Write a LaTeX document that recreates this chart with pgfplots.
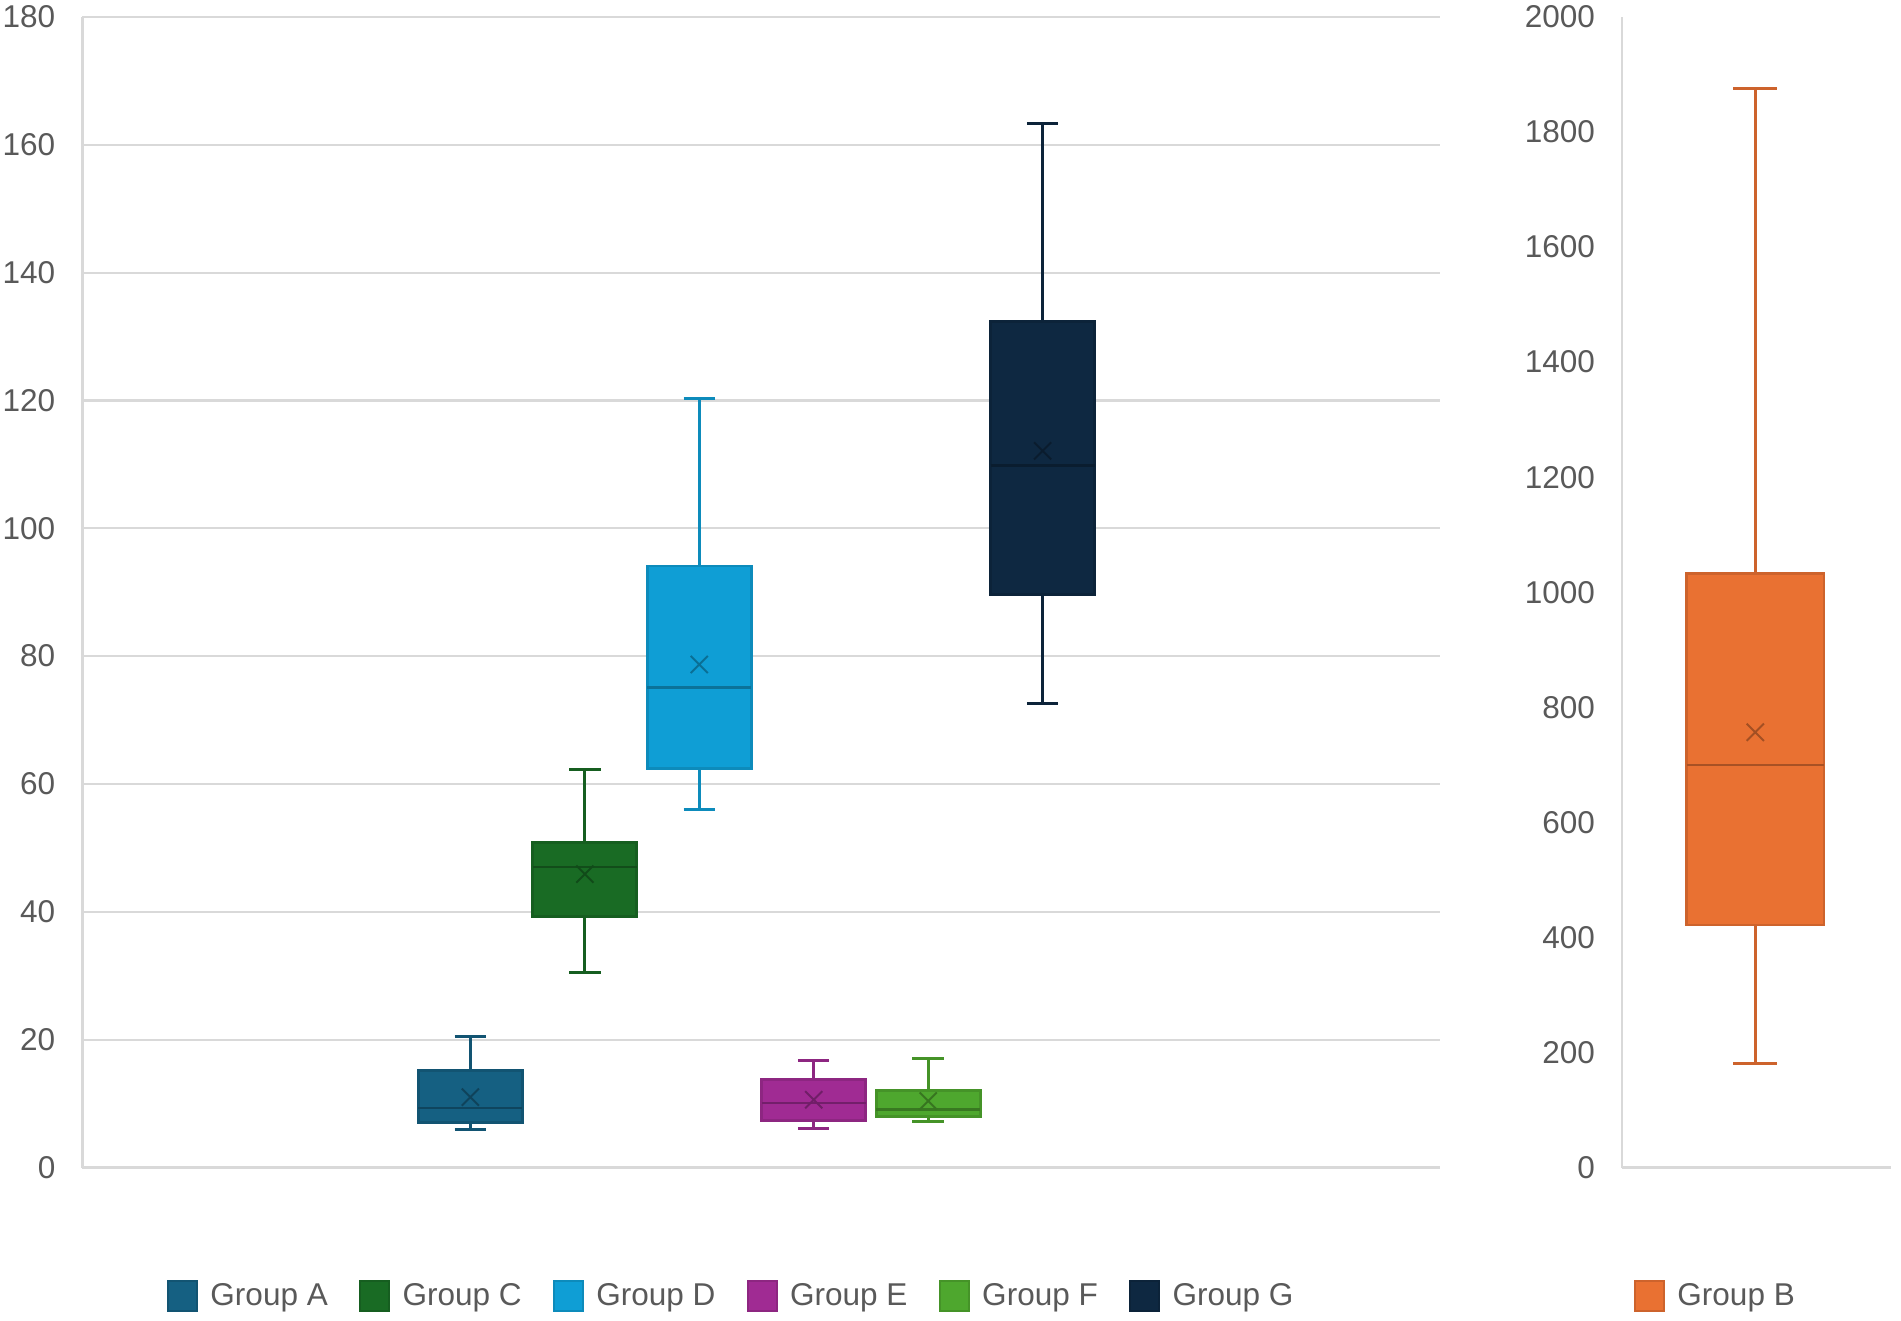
\documentclass[border=0pt]{standalone}
\usepackage{fontspec}
\setmainfont{Liberation Sans}
\usepackage{pgfplots}
\pgfplotsset{compat=1.18}
\usepgfplotslibrary{statistics}
\definecolor{cA}{HTML}{156082}
\definecolor{cB}{HTML}{E97132}
\definecolor{cC}{HTML}{196B24}
\definecolor{cD}{HTML}{0F9ED5}
\definecolor{cE}{HTML}{A02B93}
\definecolor{cF}{HTML}{4EA72E}
\definecolor{cG}{HTML}{0E2841}
\definecolor{gridgray}{HTML}{D9D9D9}
\definecolor{tickgray}{HTML}{595959}
\pgfplotsset{
  base/.style={
    scale only axis, anchor=south west,
    boxplot/draw direction=y,
    axis x line*=bottom, axis y line*=left,
    axis line style={draw=gridgray, line width=0.9pt},
    major tick length=0pt, xtick=\empty,
    tick style={draw=none},
    ticklabel style={font=\fontsize{13}{15}\selectfont, text=tickgray},
    yticklabel style={inner sep=0pt, anchor=east, xshift=-11pt},
    /pgf/number format/assume math mode=true,
    /pgf/number format/1000 sep={},
    legend image code/.code={\draw[##1,line width=0.8pt] (0pt,-6pt) rectangle (12pt,6pt);},
  },
  gbox/.style={forget plot, draw=#1!88!black, fill=#1, line width=1.2pt,
    boxplot/every median/.style={draw=#1!72!black, line width=1.1pt}},
  gmean/.style={forget plot, only marks, mark=x, mark size=5pt,
    mark options={draw=#1!70!black, line width=0.8pt}},
}
\begin{document}
\begin{tikzpicture}
\path[use as bounding box] (0,0) rectangle (784pt,544.8pt);
\begin{axis}[base,
  at={(34pt,63.3pt)}, width=560pt, height=474.5pt,
  xmin=-3.39, xmax=8.475, ymin=0, ymax=180, ytick={0,20,...,180},
  ymajorgrids, grid style={draw=gridgray, line width=0.9pt},
  legend style={at={(0.0625,-0.1117)}, anchor=west, draw=none, fill=none,
    inner sep=0pt, outer sep=0pt, legend columns=-1,
    font=\fontsize{13}{15}\selectfont, text=tickgray,
    /tikz/every odd column/.style={column sep=3pt},
    /tikz/every even column/.style={column sep=11pt}},
]
\addplot[gbox=cA, boxplot prepared={draw position=0, lower whisker=5.9, lower quartile=7.0, median=9.3, upper quartile=15.2, upper whisker=20.5, box extend=0.91, whisker extend=0.275}] coordinates {};
\addplot[gbox=cC, boxplot prepared={draw position=1, lower whisker=30.5, lower quartile=39.3, median=47.0, upper quartile=50.8, upper whisker=62.2, box extend=0.91, whisker extend=0.275}] coordinates {};
\addplot[gbox=cD, boxplot prepared={draw position=2, lower whisker=56.0, lower quartile=62.4, median=75.1, upper quartile=94.1, upper whisker=120.3, box extend=0.91, whisker extend=0.275}] coordinates {};
\addplot[gbox=cE, boxplot prepared={draw position=3, lower whisker=6.1, lower quartile=7.4, median=10.1, upper quartile=13.7, upper whisker=16.7, box extend=0.91, whisker extend=0.275}] coordinates {};
\addplot[gbox=cF, boxplot prepared={draw position=4, lower whisker=7.2, lower quartile=8.0, median=9.1, upper quartile=12.1, upper whisker=17.1, box extend=0.91, whisker extend=0.275}] coordinates {};
\addplot[gbox=cG, boxplot prepared={draw position=5, lower whisker=72.6, lower quartile=89.7, median=109.8, upper quartile=132.4, upper whisker=163.3, box extend=0.91, whisker extend=0.275}] coordinates {};
\addplot[gmean=cA] coordinates {(0,11.0)};
\addplot[gmean=cC] coordinates {(1,45.9)};
\addplot[gmean=cD] coordinates {(2,78.7)};
\addplot[gmean=cE] coordinates {(3,10.6)};
\addplot[gmean=cF] coordinates {(4,10.4)};
\addplot[gmean=cG] coordinates {(5,112.1)};
\addlegendimage{fill=cA, draw=cA!88!black}\addlegendentry{Group A}
\addlegendimage{fill=cC, draw=cC!88!black}\addlegendentry{Group C}
\addlegendimage{fill=cD, draw=cD!88!black}\addlegendentry{Group D}
\addlegendimage{fill=cE, draw=cE!88!black}\addlegendentry{Group E}
\addlegendimage{fill=cF, draw=cF!88!black}\addlegendentry{Group F}
\addlegendimage{fill=cG, draw=cG!88!black}\addlegendentry{Group G}
\end{axis}
\begin{axis}[base,
  at={(669pt,63.3pt)}, width=111pt, height=474.5pt,
  xmin=-0.97, xmax=0.99, ymin=0, ymax=2000, ytick={0,200,...,2000},
  legend style={at={(0.045,-0.1117)}, anchor=west, draw=none, fill=none,
    inner sep=0pt, outer sep=0pt, legend columns=-1,
    font=\fontsize{13}{15}\selectfont, text=tickgray,
    /tikz/every odd column/.style={column sep=3pt}},
]
\addplot[gbox=cB, boxplot prepared={draw position=0, lower whisker=181, lower quartile=421.5, median=699.7, upper quartile=1032.7, upper whisker=1875.7, box extend=1.0, whisker extend=0.32}] coordinates {};
\addplot[gmean=cB] coordinates {(0,756.6)};
\addlegendimage{fill=cB, draw=cB!88!black}\addlegendentry{Group B}
\end{axis}
\end{tikzpicture}
\end{document}
